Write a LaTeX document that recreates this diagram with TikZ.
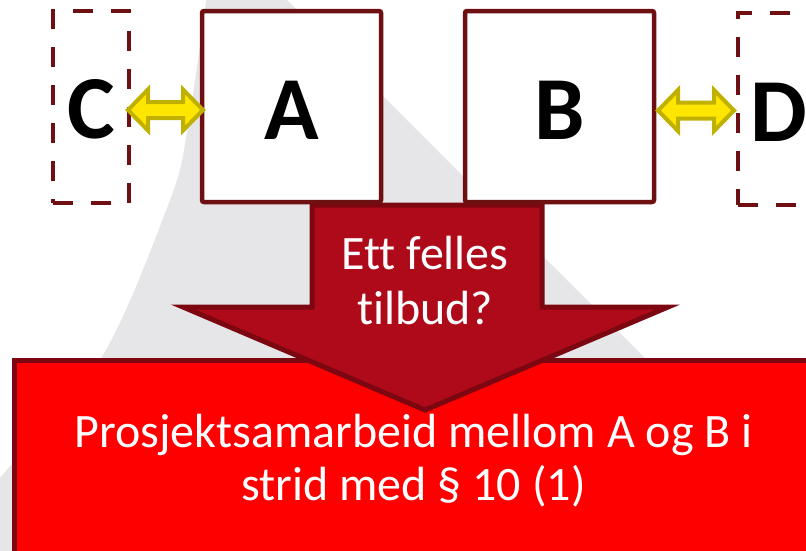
\documentclass[tikz,border=0pt]{standalone}
\usepackage{fontspec}
\setmainfont{Carlito}[Ligatures=NoCommon]
\usetikzlibrary{calc}
\definecolor{boxline}{HTML}{6E0F12}
\definecolor{arrline}{HTML}{7D0711}
\definecolor{arrfill}{HTML}{AE0A1A}
\definecolor{redfill}{HTML}{FF0000}
\definecolor{yelfill}{HTML}{FFE600}
\definecolor{yelline}{HTML}{C0B000}
\definecolor{wmgray}{HTML}{E6E6E8}
\tikzset{
  box/.style={draw=boxline, line width=4.5pt, fill=white, rounded corners=2pt,
    inner sep=0pt, outer sep=0pt, font=\fontsize{90}{90}\selectfont\bfseries, text height=65pt},
  dbox/.style={draw=boxline, line width=4pt, dash pattern=on 20pt off 18pt,
    inner sep=0pt, outer sep=0pt, font=\fontsize{90}{90}\selectfont\bfseries, text height=65pt},
  redbox/.style={draw=arrline, line width=5pt, fill=redfill, inner sep=0pt, outer sep=0pt},
  bigarrow/.style={draw=arrline, line width=5pt, fill=arrfill, line join=miter},
  yarr/.style={draw=yelline, line width=4pt, fill=yelfill, line join=miter},
  wtext/.style={text=white, align=center, inner sep=0pt}
}
\newcommand\dblyarrow[2]{%
  \draw[yarr] let \p1=(#1), \p2=(#2) in
  (\x1,\y1) -- (\x1+20pt,\y1+20.5pt) -- (\x1+20pt,\y1+8pt) -- (\x2-20pt,\y1+8pt)
  -- (\x2-20pt,\y1+20.5pt) -- (\x2,\y1) -- (\x2-20pt,\y1-20.5pt) -- (\x2-20pt,\y1-8pt)
  -- (\x1+20pt,\y1-8pt) -- (\x1+20pt,\y1-20.5pt) -- cycle;}
\begin{document}
\begin{tikzpicture}[x=1pt,y=-1pt]
\useasboundingbox (0,0) rectangle (806,550);
\clip (0,0) rectangle (806,550);
% watermark
\fill[wmgray] plot[smooth] coordinates {(207,-5) (187,133) (170,200) (103,355) (0,478) (-60,560)}
  -- (847,560) -- (282,-5) -- cycle;
% red result box
\node[redbox, minimum width=900pt, minimum height=250pt] (R) at (464,485) {};
% big arrow
\draw[bigarrow] (312,205) -- (542,205) -- (542,307) -- (668,307) -- (425,410)
  -- (183,307) -- (312,307) -- cycle;
% boxes
\node[box, minimum width=179pt, minimum height=191pt] (A) at (291.5,106.5) {A};
\node[box, minimum width=189pt, minimum height=191pt] (B) at (559.5,106.5) {B};
\node[dbox, minimum width=76pt, minimum height=192pt] (C) at (91,106.5) {C};
\node[dbox, minimum width=82pt, minimum height=192pt] (D) at (779,109) {D};
% connectors
\dblyarrow{[xshift=-1pt,yshift=-3.5pt]C.east}{[xshift=1pt,yshift=-3.5pt]A.west}
\dblyarrow{[xshift=4pt,yshift=-4pt]B.east}{[xshift=-4pt,yshift=-4pt]D.west}
% texts
\node[wtext, font=\fontsize{48}{55}\selectfont] (q) at (425,281) {Ett felles\\tilbud?};
\node[wtext, font=\fontsize{48}{53}\selectfont] (Rt) at (413.5,461) {Prosjektsamarbeid mellom A og B i\\strid med § 10 (1)};
\end{tikzpicture}
\end{document}
